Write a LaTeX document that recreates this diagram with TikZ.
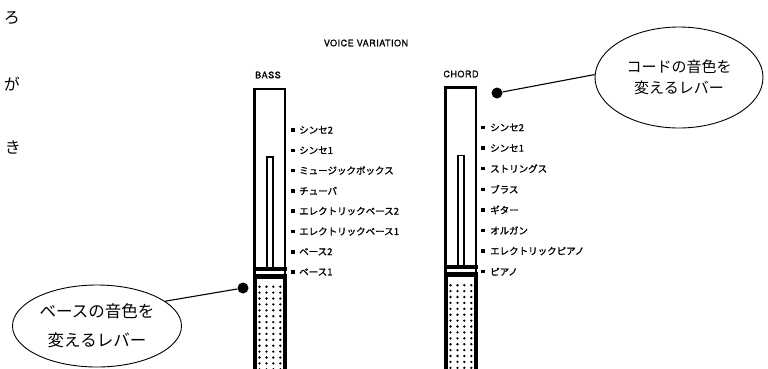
\documentclass[tikz,border=0pt]{standalone}
\usepackage{fontspec}
\setmainfont{TeX Gyre Heros}
\newfontfamily\jp{Noto Sans CJK JP}
\newfontfamily\jpb[FakeBold=1.2]{Noto Sans CJK JP}
\newfontfamily\hdfont[LetterSpace=6,FakeBold=1.2]{TeX Gyre Heros}
\usetikzlibrary{shapes.geometric}
\begin{document}
\begin{tikzpicture}[x=1pt,y=-1pt,
  lbl/.style={anchor=west, font=\jpb\fontsize{9.5}{10}\selectfont, inner sep=0pt},
  bul/.style={fill, inner sep=0pt, minimum size=3.5pt},
  callout/.style={draw, ellipse, line width=0.9pt, inner sep=0pt, align=center},
  kdot/.style={circle, fill, inner sep=0pt, minimum size=11pt},
  hd/.style={font=\hdfont\fontsize{9}{10}\selectfont, inner sep=0pt},
  margin/.style={font=\jp\fontsize{16}{16}\selectfont, inner sep=0pt}]
\useasboundingbox (0,0) rectangle (768,368);
\clip (0,0) rectangle (768,368);
\fill[white] (0,0) rectangle (768,368);

% margin characters
\node[margin] (m1) at (12,18) {ろ};
\node[margin] (m2) at (12,84) {が};
\node[margin] (m3) at (13,147) {き};

% headings
\node[hd] (title) at (366,43) {VOICE VARIATION};
\node[hd] (bass) at (268,75) {BASS};
\node[hd] (chord) at (461,74) {CHORD};

% sliders
\foreach \dx/\dy in {0/0, 191/-1.5} {
  \begin{scope}[shift={(\dx,\dy)}]
    \draw[line width=2.8pt] (254.5,89) rectangle (285,390);
    \draw[line width=1.5pt] (267,157) rectangle (273,268);
    \fill (252.5,266.5) rectangle (286.5,270.5);
    \fill (252.5,273.5) rectangle (286.5,390);
    \fill[white] (257,278.5) rectangle (283,390);
    \foreach \c in {259.5,266.5,273.3,280.3} {
      \foreach \r in {0,...,14} {
        \fill (\c,286.7+5.9*\r) circle (1.3pt);
      }
    }
  \end{scope}
}

% BASS labels
\foreach \t [count=\i from 0] in {シンセ2,シンセ1,ミュージックボックス,チューバ,エレクトリックベース2,エレクトリックベース1,ベース2,ベース1} {
  \node[bul] (bb\i) at (293,130+20.3*\i) {};
  \node[lbl] (bl\i) at (299,130+20.3*\i) {\t};
}

% CHORD labels
\foreach \t [count=\i from 0] in {シンセ2,シンセ1,ストリングス,ブラス,ギター,オルガン,エレクトリックピアノ,ピアノ} {
  \node[bul] (cb\i) at (483,127.5+20.6*\i) {};
  \node[lbl] (cl\i) at (490,127.5+20.6*\i) {\t};
}

% callouts
\node[callout, minimum width=169pt, minimum height=82pt,
      font=\jp\fontsize{16.5}{29}\selectfont] (le) at (97,326) {ベースの音色を\\変えるレバー};
\node[callout, minimum width=168pt, minimum height=101pt,
      font=\jp\fontsize{15}{21}\selectfont] (ce) at (679,77.5) {コードの音色を\\変えるレバー};

\node[kdot] (bdot) at (243,288) {};
\node[kdot] (cdot) at (497,93) {};
\draw[line width=1.1pt] (bdot) -- (le.20);
\draw[line width=1.1pt] (cdot) -- (ce.178);
\end{tikzpicture}
\end{document}
